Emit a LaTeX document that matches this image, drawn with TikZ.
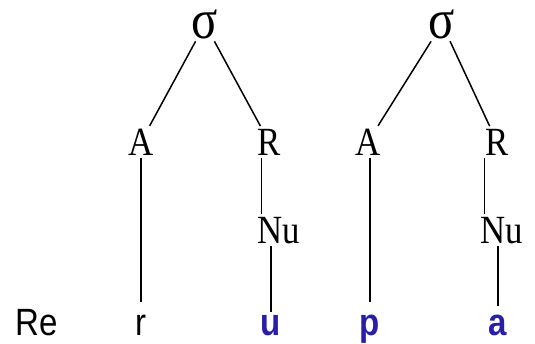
\documentclass[tikz,border=0pt]{standalone}
\usepackage{fontspec}
\setmainfont{Liberation Serif}
\newfontfamily\glosssans{Liberation Sans}
\definecolor{vowelblue}{RGB}{40,30,170}
\begin{document}
\begin{tikzpicture}[x=0.5pt, y=-0.5pt, line width=0.75pt,
    syl/.style={anchor=base, inner sep=1pt, xscale=0.87, font=\fontsize{28}{30}\selectfont},
    const/.style={anchor=base, inner sep=1pt, xscale=0.87, font=\fontsize{20}{22}\selectfont},
    seg/.style={anchor=base, inner sep=1pt, xscale=0.87, font=\glosssans\fontsize{19}{21}\selectfont},
    vowel/.style={seg, text=vowelblue, font=\glosssans\bfseries\fontsize{19}{21}\selectfont}]
    \useasboundingbox (0,0) rectangle (535,343);

    % syllable nodes
    \node[syl] (s1) at (205,38) {σ};
    \node[syl] (s2) at (442,38) {σ};

    % onset and rhyme
    \node[const] (A1) at (141,155) {A};
    \node[const] (R1) at (269,155) {R};
    \node[const] (A2) at (368,155) {A};
    \node[const] (R2) at (497,155) {R};
    \node[const] (Nu1) at (279,243) {Nu};
    \node[const] (Nu2) at (502,243) {Nu};

    % segments
    \node[seg] (re) at (37,335) {Re};
    \node[seg] (r) at (141,335) {r};
    \node[vowel] (u) at (271,335) {u};
    \node[vowel] (p) at (370,335) {p};
    \node[vowel] (a) at (498,335) {a};

    \draw (s1) -- (A1);
    \draw (s1) -- (R1);
    \draw (s2) -- (A2);
    \draw (s2) -- (R2);

    \draw[shorten >=5pt] (A1) -- (r);
    \draw (R1.south -| Nu1.west) ++(6,0) coordinate (t1) -- (t1 |- Nu1.north);
    \draw (Nu1.south -| u) -- (u);
    \draw[shorten >=5pt] (A2.south -| p) -- (p.north);
    \draw (R2.south -| Nu2.west) ++(6,0) coordinate (t2) -- (t2 |- Nu2.north);
    \draw[shorten >=3pt] (Nu2.south -| a) -- (a);
\end{tikzpicture}
\end{document}
